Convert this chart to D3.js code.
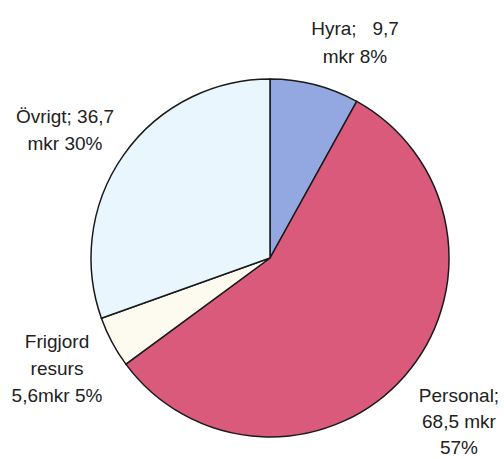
<!DOCTYPE html>
<meta charset="utf-8">
<title>Kostnader</title>
<style>
  body { margin: 0; background: #fff; }
  .lbl { font-family: "Liberation Sans", Arial, sans-serif; font-size: 19px; fill: #222; white-space: pre; }
  .slice { stroke: #1a1a1a; stroke-width: 1.5px; }
</style>
<body>
<svg width="504" height="459"></svg>
<script src="https://d3js.org/d3.v7.min.js"></script>
<script>
  // data, clockwise from 12 o'clock
  var names = ["Hyra", "Personal", "Frigjord resurs", "Övrigt"];
  var values = [9.7, 68.5, 5.6, 36.7];
  var colors = ["#93a8e0", "#da5a7c", "#fdfbef", "#eaf6fd"];
  var labelLines = [
    ["Hyra;   9,7", "mkr 8%"],
    ["Personal;", "68,5 mkr", "57%"],
    ["Frigjord", "resurs", "5,6mkr 5%"],
    ["Övrigt; 36,7", "mkr 30%"]
  ];
  // label anchor (x centre, first baseline)
  var labelPos = [[355, 35], [459, 402], [57, 348], [65, 123]];
  var lineGap = [28, 26, 27, 27];

  const svg = d3.select("svg");
  const cx = 270, cy = 258, R = 179;

  var pie = d3.pie().sort(null).value(d => d);
  var arc = d3.arc().innerRadius(0).outerRadius(R);

  var g = svg.append("g").attr("transform", `translate(${cx},${cy})`);

  g.selectAll("path")
    .data(pie(values))
    .enter().append("path")
    .attr("class", "slice")
    .attr("fill", (d, i) => colors[i])
    .attr("d", arc);

  labelLines.forEach(function (lines, i) {
    var t = svg.append("text")
      .attr("class", "lbl")
      .attr("text-anchor", "middle");
    lines.forEach(function (s, j) {
      t.append("tspan")
        .attr("x", labelPos[i][0])
        .attr("y", labelPos[i][1] + j * lineGap[i])
        .text(s);
    });
  });
</script>
</body>
